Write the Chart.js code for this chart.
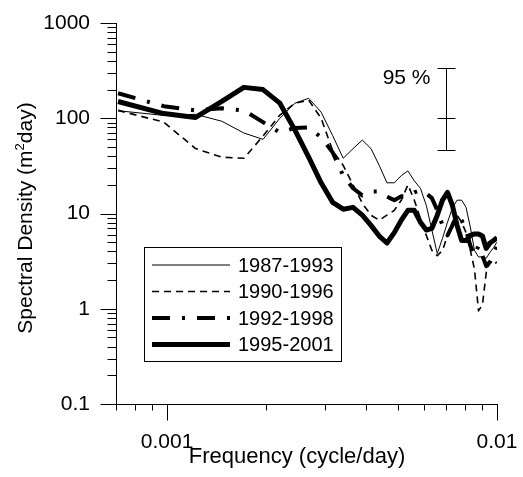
<!DOCTYPE html>
<html>
<head>
<meta charset="utf-8">
<title>Spectral Density</title>
<script src="https://cdn.jsdelivr.net/npm/chart.js@4/dist/chart.umd.min.js"></script>
<style>
    body { margin: 0; background: #fff; }
    canvas { display: block; }
</style>
</head>
<body>
<canvas id="spectrumChart" width="523" height="477"></canvas>
<script>
// frequency grid (cycle/day)
const frequencies = [0.00071, 0.000977, 0.00122, 0.001465, 0.001709, 0.001953, 0.002197, 0.002441, 0.002686, 0.00293,
    0.003174, 0.003418, 0.003662, 0.003906, 0.00415, 0.004395, 0.004639, 0.004883, 0.005127, 0.005371,
    0.005615, 0.005859, 0.006104, 0.006348, 0.006592, 0.006836, 0.00708, 0.007324, 0.007568, 0.007813,
    0.008057, 0.008301, 0.008545, 0.008789, 0.009033, 0.009277, 0.009521, 0.009766, 0.01];

const seriesLabels = ['1987-1993', '1990-1996', '1992-1998', '1995-2001'];

const spec1987 = [120, 107, 110, 93, 70, 60, 100, 144, 162, 116,
    66, 38, 48, 59, 48, 32, 21, 21, 25, 28,
    22, 18.4, 12.2, 6.7, 3.8, 5.5, 8.1, 11.4, 13.8, 13.8,
    11.6, 7.2, 4.1, 3.5, 3.5, 3.4, 3.9, 4.4, 5.0];

const spec1990 = [121, 91, 48, 39, 38, 65, 108, 144, 155, 100,
    46, 32, 20, 12.8, 9.6, 8.5, 9.6, 10.8, 13.8, 20,
    13.8, 8.9, 5.9, 4.1, 3.6, 4.1, 5.9, 8.1, 9.6, 8.1,
    6.3, 4.1, 2.6, 0.95, 1.1, 2.4, 3.1, 2.9, 3.1];

const spec1992 = [183, 134, 121, 127, 121, 91, 71, 79, 80, 63,
    44, 25, 18.4, 15.5, 17, 17, 15, 13.8, 15.2, 15.2,
    16.7, 17.6, 16.3, 14.5, 10.8, 7.5, 5.9, 7.5, 9.6, 8.5,
    6.7, 4.6, 3.6, 4.6, 3.6, 2.8, 3.1, 3.6, 4.6];

const spec1995 = [150, 112, 102, 150, 211, 200, 144, 75, 39, 21,
    13.1, 11.1, 11.6, 9.6, 7.5, 5.8, 4.9, 6.3, 8.5, 10.8,
    10.8, 8.1, 6.7, 7.0, 9.6, 13.8, 16.7, 12.2, 7.5, 5.2,
    5.2, 5.9, 6.1, 6.1, 5.8, 4.3, 4.9, 5.2, 5.6];

// 95 % confidence bar: frequency, [lower, centre, upper]
const confFrequency = 0.007;
const confValues = [46, 100, 335];
const confLabel = '95 %';

const yTickLabels = ['0.1', '1', '10', '100', '1000'];
const xTickLabels = ['0.001', '0.01'];

const xTitle = 'Frequency (cycle/day)';
const yTitleParts = ['Spectral Density (m', '2', 'day)'];

const FONT = 'Arial, "Liberation Sans", sans-serif';

function decadeTicks(labels) {
    const ticks = [];
    const majors = labels.map(Number);
    for (let i = 0; i < majors.length; i++) {
        ticks.push({ value: majors[i], major: true });
        if (i < majors.length - 1) {
            for (let m = 2; m <= 9; m++) {
                ticks.push({ value: parseFloat((majors[i] * m).toPrecision(6)), major: false });
            }
        }
    }
    return ticks;
}

function buildXTicks() {
    const ticks = [];
    [0.0007, 0.0008, 0.0009].forEach(v => ticks.push({ value: v, major: false }));
    return ticks.concat(decadeTicks(xTickLabels));
}

function toPoints(values) {
    return values.map((v, i) => ({ x: frequencies[i], y: v }));
}

// tick marks drawn outside the axes, long at decades, short between
const tickMarks = {
    id: 'tickMarks',
    afterDraw(chart) {
        const ctx = chart.ctx;
        const xs = chart.scales.x;
        const ys = chart.scales.y;
        const axisX = Math.round(ys.right) + 0.5;
        const axisY = Math.round(xs.top) + 0.5;
        ctx.save();
        ctx.strokeStyle = '#000';
        ctx.lineWidth = 1;
        ctx.beginPath();
        ys.ticks.forEach(t => {
            const py = Math.round(ys.getPixelForValue(t.value)) + 0.5;
            const len = t.major ? 16 : 9;
            ctx.moveTo(axisX - len, py);
            ctx.lineTo(axisX, py);
        });
        xs.ticks.forEach(t => {
            const px = Math.round(xs.getPixelForValue(t.value)) + 0.5;
            const len = t.major ? 16 : 6;
            ctx.moveTo(px, axisY);
            ctx.lineTo(px, axisY + len);
        });
        ctx.stroke();
        ctx.restore();
    }
};

// axis titles, the y one with a raised "2"
const axisTitles = {
    id: 'axisTitles',
    afterDraw(chart) {
        const ctx = chart.ctx;
        ctx.save();
        ctx.fillStyle = '#000';
        ctx.textBaseline = 'alphabetic';

        ctx.font = '22px ' + FONT;
        ctx.textAlign = 'center';
        ctx.fillText(xTitle, 297, 463);

        ctx.translate(32, 218);
        ctx.rotate(-Math.PI / 2);
        ctx.textAlign = 'left';
        const big = '21px ' + FONT;
        const small = '13px ' + FONT;
        ctx.font = big;
        const w0 = ctx.measureText(yTitleParts[0]).width;
        const w2 = ctx.measureText(yTitleParts[2]).width;
        ctx.font = small;
        const w1 = ctx.measureText(yTitleParts[1]).width;
        let x = -(w0 + w1 + w2) / 2;
        ctx.font = big;
        ctx.fillText(yTitleParts[0], x, 0);
        x += w0;
        ctx.font = small;
        ctx.fillText(yTitleParts[1], x, -8);
        x += w1;
        ctx.font = big;
        ctx.fillText(yTitleParts[2], x, 0);
        ctx.restore();
    }
};

const confidenceBar = {
    id: 'confidenceBar',
    afterDatasetsDraw(chart) {
        const ctx = chart.ctx;
        const px = Math.round(chart.scales.x.getPixelForValue(confFrequency)) + 0.5;
        const pys = confValues.map(v => Math.round(chart.scales.y.getPixelForValue(v)) + 0.5);
        ctx.save();
        ctx.strokeStyle = '#000';
        ctx.lineWidth = 1;
        ctx.beginPath();
        ctx.moveTo(px, pys[0]);
        ctx.lineTo(px, pys[2]);
        pys.forEach(py => {
            ctx.moveTo(px - 9, py);
            ctx.lineTo(px + 9, py);
        });
        ctx.stroke();
        ctx.fillStyle = '#000';
        ctx.font = '21px ' + FONT;
        ctx.textAlign = 'right';
        ctx.textBaseline = 'alphabetic';
        ctx.fillText(confLabel, px - 16, pys[2] + 15);
        ctx.restore();
    }
};

const boxLegend = {
    id: 'boxLegend',
    afterDatasetsDraw(chart) {
        const ctx = chart.ctx;
        const left = 144, top = 247, width = 197, height = 114;
        ctx.save();
        ctx.fillStyle = '#fff';
        ctx.fillRect(left, top, width, height);
        ctx.strokeStyle = '#000';
        ctx.lineWidth = 1;
        ctx.strokeRect(left + 0.5, top + 0.5, width, height);
        ctx.font = '20px ' + FONT;
        ctx.textBaseline = 'middle';
        ctx.textAlign = 'left';
        chart.data.datasets.forEach((ds, i) => {
            const y = top + 18 + i * 26.5;
            ctx.beginPath();
            ctx.lineWidth = ds.borderWidth;
            ctx.setLineDash(ds.borderDash || []);
            ctx.moveTo(left + 8, y);
            ctx.lineTo(left + 86, y);
            ctx.stroke();
            ctx.setLineDash([]);
            ctx.fillStyle = '#000';
            ctx.fillText(ds.label, left + 94, y + 1);
        });
        ctx.restore();
    }
};

function renderChart() {
    const ctx = document.getElementById('spectrumChart').getContext('2d');
    new Chart(ctx, {
        type: 'line',
        data: {
            datasets: [
                { label: seriesLabels[0], data: toPoints(spec1987), borderWidth: 1, borderDash: [] },
                { label: seriesLabels[1], data: toPoints(spec1990), borderWidth: 1.6, borderDash: [7, 5] },
                { label: seriesLabels[2], data: toPoints(spec1992), borderWidth: 4, borderDash: [18, 12, 3, 12] },
                { label: seriesLabels[3], data: toPoints(spec1995), borderWidth: 5, borderDash: [] }
            ].map(ds => Object.assign(ds, {
                borderColor: '#000',
                backgroundColor: '#000',
                pointRadius: 0,
                tension: 0,
                fill: false,
                borderJoinStyle: 'round'
            }))
        },
        options: {
            responsive: false,
            animation: false,
            devicePixelRatio: 1,
            layout: { padding: { top: 23, right: 26, left: 0, bottom: 0 } },
            plugins: {
                legend: { display: false },
                tooltip: { enabled: false }
            },
            scales: {
                x: {
                    type: 'logarithmic',
                    min: 0.0007,
                    max: 0.01,
                    afterBuildTicks: scale => { scale.ticks = buildXTicks(); },
                    afterFit: scale => {
                        scale.height = 73;
                        scale.paddingLeft = 0;
                        scale.paddingRight = 0;
                    },
                    grid: { display: false, drawTicks: false },
                    border: { display: true, color: '#000', width: 1 },
                    ticks: {
                        autoSkip: false,
                        maxRotation: 0,
                        padding: 26,
                        color: '#000',
                        font: { family: FONT, size: 21 },
                        callback: value => {
                            const idx = xTickLabels.map(Number).indexOf(value);
                            return idx >= 0 ? xTickLabels[idx] : '';
                        }
                    },
                    title: { display: false }
                },
                y: {
                    type: 'logarithmic',
                    min: 0.1,
                    max: 1000,
                    afterBuildTicks: scale => { scale.ticks = decadeTicks(yTickLabels); },
                    afterFit: scale => {
                        scale.width = 116;
                        scale.paddingTop = 0;
                        scale.paddingBottom = 0;
                    },
                    grid: { display: false, drawTicks: false },
                    border: { display: true, color: '#000', width: 1 },
                    ticks: {
                        autoSkip: false,
                        padding: 26,
                        color: '#000',
                        font: { family: FONT, size: 21 },
                        callback: value => {
                            const idx = yTickLabels.map(Number).indexOf(value);
                            return idx >= 0 ? yTickLabels[idx] : '';
                        }
                    },
                    title: { display: false }
                }
            }
        },
        plugins: [tickMarks, axisTitles, confidenceBar, boxLegend]
    });
}

renderChart();
</script>
</body>
</html>
